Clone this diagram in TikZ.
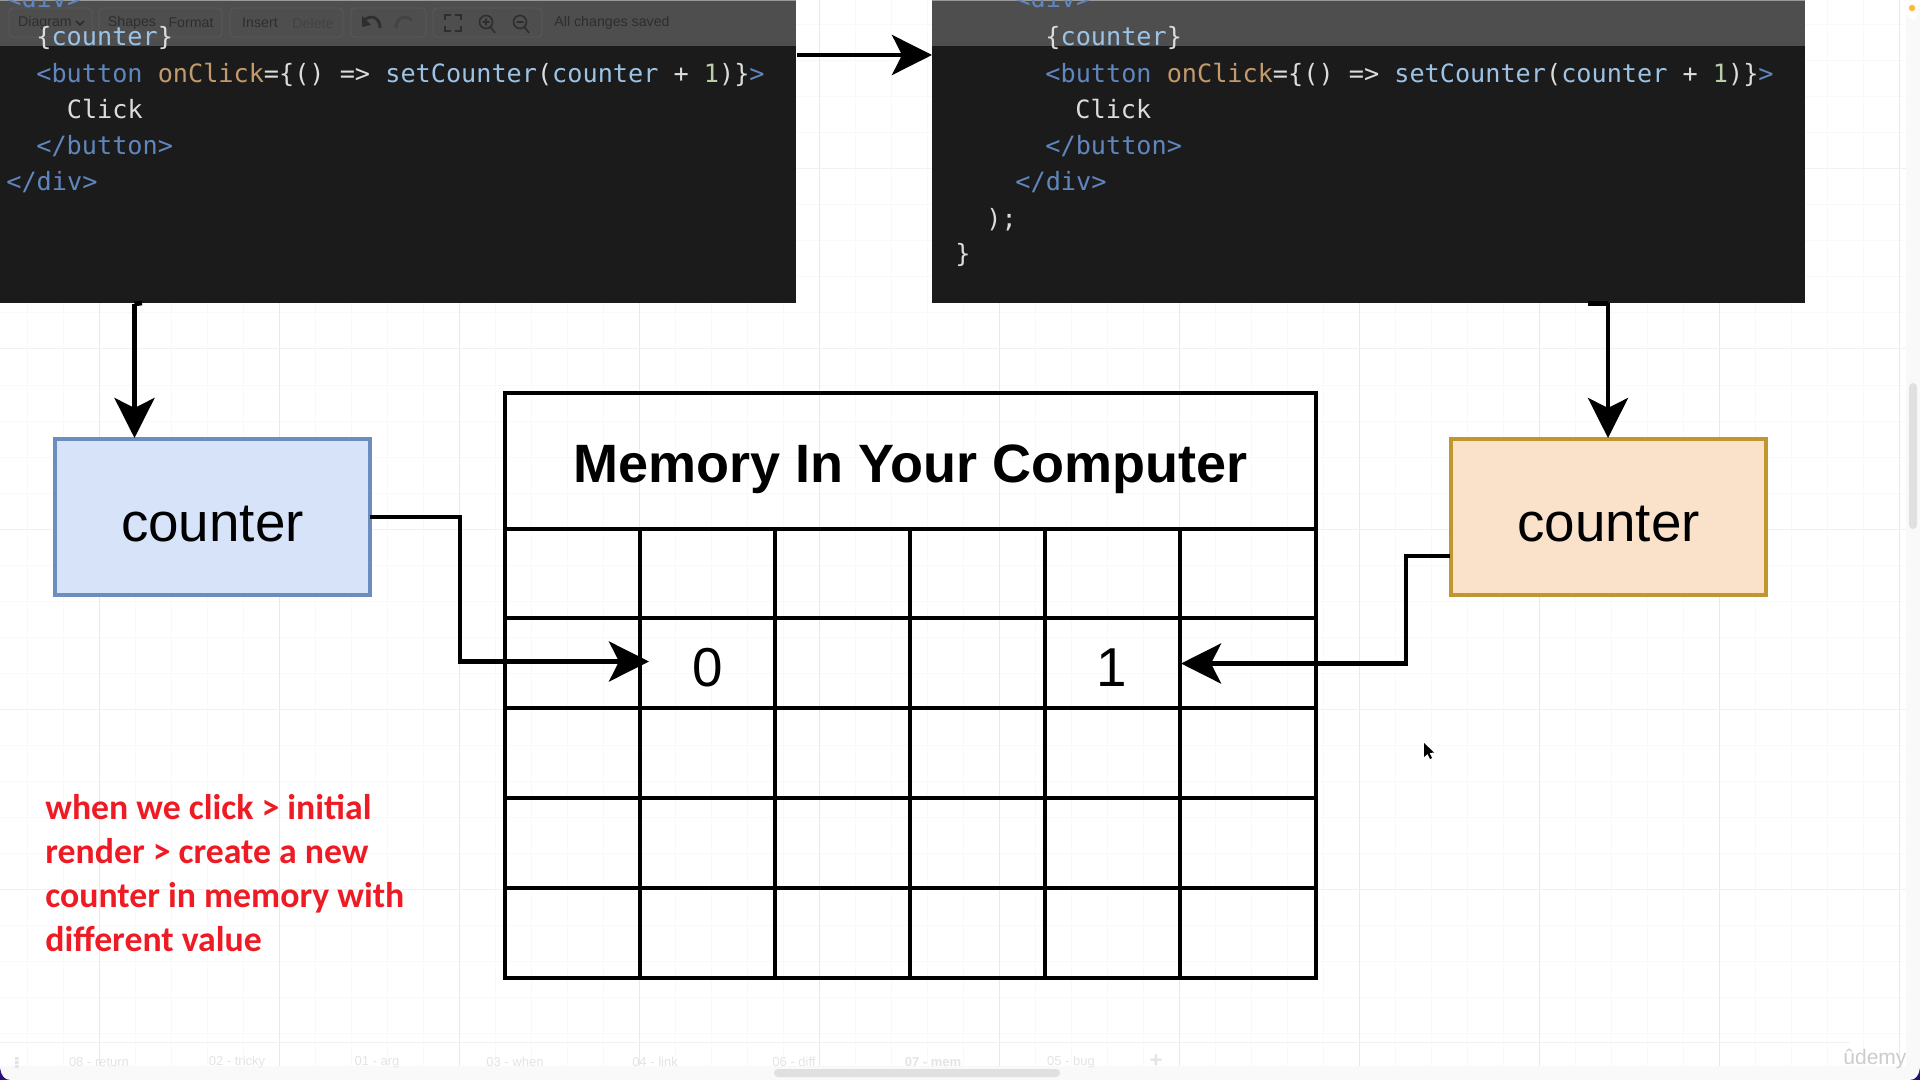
\documentclass[tikz,border=0pt]{standalone}
\usepackage{fontspec}
\usetikzlibrary{arrows.meta,calc}
\setmainfont{Liberation Sans}
\newfontfamily\codefont{DejaVu Sans Mono}
\newfontfamily\redfont{Carlito}
\definecolor{codebg}{HTML}{1B1B1B}
\definecolor{bandbg}{HTML}{4E4E4E}
\definecolor{tagblue}{HTML}{5F86BE}
\definecolor{attr}{HTML}{C39A6B}
\definecolor{fnblue}{HTML}{9CC3E6}
\definecolor{plain}{HTML}{DCDCDC}
\definecolor{numgreen}{HTML}{B9CDA6}
\definecolor{bluefill}{HTML}{D6E3F9}
\definecolor{bluedraw}{HTML}{6C8EBF}
\definecolor{orfill}{HTML}{FAE2CA}
\definecolor{ordraw}{HTML}{C2962F}
\definecolor{redtxt}{HTML}{EE1B24}
\definecolor{gridmin}{HTML}{F9F9F9}
\definecolor{gridmaj}{HTML}{E9E9E9}
\definecolor{gridhor}{HTML}{F1F1F1}
\definecolor{stripbg}{HTML}{F9F9F9}
\definecolor{tbtxt}{HTML}{2E2E2E}
\definecolor{tbfaint}{HTML}{434343}
\definecolor{tabtxt}{HTML}{E4E4E4}
\definecolor{cornerv}{HTML}{2A0F7A}
\newcommand{\Tg}[1]{\textcolor{tagblue}{#1}}
\newcommand{\At}[1]{\textcolor{attr}{#1}}
\newcommand{\Fn}[1]{\textcolor{fnblue}{#1}}
\newcommand{\Nm}[1]{\textcolor{numgreen}{#1}}
\newcommand{\btnline}{\Tg{<button} \At{onClick}=\{() => \Fn{setCounter}(\Fn{counter} + \Nm{1})\}\Tg{>}}
\tikzset{
  codepanel/.style={fill=codebg,draw=none,anchor=north west,inner sep=0pt,outer sep=0pt,minimum height=151.5pt},
  band/.style={fill=bandbg,draw=none},
  codeline/.style={anchor=base west,inner sep=0pt,text=plain,font=\codefont\fontsize{12.6}{14}\selectfont},
  box/.style={draw,line width=2.2pt,anchor=north west,inner sep=0pt,outer sep=0pt,minimum width=157.5pt,minimum height=78pt,text=black},
  boxlabel/.style={inner sep=0pt,font=\fontsize{27.4}{30}\selectfont},
  conn/.style={draw=black,line width=2.3pt,-{Stealth[length=20pt,width=20pt,inset=5pt]}},
  tabline/.style={draw=black,line width=2.3pt},
  digit/.style={inner sep=0pt,font=\fontsize{27.4}{30}\selectfont},
  redline/.style={anchor=base west,inner sep=0pt,text=redtxt,font=\redfont\bfseries\fontsize{17.87}{20}\selectfont},
  tbbtn/.style={draw=bandbg!93!white,rounded corners=2pt,line width=0.4pt},
  tbtext/.style={inner sep=0pt,text=tbtxt,font=\fontsize{7.1}{9}\selectfont},
  tbicon/.style={draw=tbtxt,line width=0.8pt},
  tabtext/.style={inner sep=0pt,text=tabtxt,font=\fontsize{6.5}{8}\selectfont},
}
\begin{document}
\begin{tikzpicture}[x=0.5pt,y=-0.5pt]
\useasboundingbox (0,0) rectangle (1920,1080);
\fill[white] (0,0) rectangle (1920,1080);
% grid
\foreach \k in {0,...,53}{
  \draw[gridmin,line width=0.5pt] ({27+36*\k},0) -- ({27+36*\k},1066);
}
\foreach \k in {0,...,29}{
  \draw[gridmin,line width=0.5pt] (0,{25+36*\k}) -- (1920,{25+36*\k});
}
\foreach \k in {0,...,10}{
  \draw[gridmaj,line width=0.5pt] ({99+180*\k},0) -- ({99+180*\k},1066);
}
\foreach \k in {0,...,4}{
  \draw[gridhor,line width=0.5pt] (0,{169+180*\k}) -- (1920,{169+180*\k});
}
\draw[gridhor,line width=0.5pt] (0,1042) -- (1850,1042);
% window strips
\fill[stripbg] (1906,1066) -- (1906,10) arc[start angle=180,end angle=90,radius=10] -- (1920,0) -- (1920,1066) -- cycle;
\fill[stripbg] (0,1066) rectangle (1920,1080);
\fill[cornerv] (0,1068) -- (0,1080) -- (10,1080) .. controls (4,1080) and (1,1075) .. (0,1068) -- cycle;
\fill[cornerv] (1920,1068) -- (1920,1080) -- (1910,1080) .. controls (1916,1080) and (1919,1075) .. (1920,1068) -- cycle;
\fill[black!12,rounded corners=2pt] (774,1069) rectangle (1060,1077);
\foreach \tx/\px/\nm in {08 - return/99/t1,02 - tricky/237/t2,01 - arg/377/t3,03 - when/515/t4,04 - link/655/t5,06 - diff/794/t6,05 - bug/1071/t8}{
  \node[tabtext] (\nm) at (\px,1062) {\tx};
}
\node[tabtext] (t7) at (933,1062) {\textbf{07 - mem}};
\node[tabtext,font=\bfseries\fontsize{11}{12}\selectfont] (tplus) at (1156,1061) {+};
\fill[tabtxt] (15,1057) rectangle (18.5,1060) (15,1061) rectangle (18.5,1064) (15,1065) rectangle (18.5,1068);
\node[anchor=base west,inner sep=0pt,text=black!20,font=\fontsize{10.5}{12}\selectfont] (logo) at (1843,1064) {ûdemy};
% right scrollbar
\fill[black!12,rounded corners=2pt] (1909,383) rectangle (1917,529);
\fill[orange!70!yellow!80!white] (1912,8) circle (3.2);
% code panels
\node[codepanel,minimum width=398pt] (left) at (0,0) {};
\node[codepanel,minimum width=436.5pt] (right) at (932,0) {};
\fill[band] (0,0) rectangle (796,46.5);
\fill[band] (932,0) rectangle (1805,46.5);
\fill[black!40] (0,0) rectangle (796,1) (932,0) rectangle (1805,1);
% toolbar
\draw[tbbtn] (9,8) rectangle (92,37);
\draw[tbbtn] (99,8) rectangle (222,37);
\draw[tbbtn] (230,8) rectangle (343,37);
\draw[tbbtn] (351,8) rectangle (426,37);
\draw[tbbtn] (433,8) rectangle (542,37);
\node[tbtext] (tb1) at (45,23) {Diagram};
\node[tbtext] (tb2) at (132,23) {Shapes};
\node[tbtext] (tb3) at (191,23) {Format};
\node[tbtext] (tb4) at (260,23) {Insert};
\node[tbtext,text=tbfaint] (tb5) at (313,23) {Delete};
\node[tbtext,anchor=west] (tb6) at (554,23) {All changes saved};
\draw[tbicon] (76,21) -- (80,25) -- (84,21);
\draw[tbicon,line width=1.2pt] (445,20) |- (451,15) (455,15) -| (461,20) (461,26) |- (455,31) (451,31) -| (445,26);
\draw[tbicon] (486,22) circle (6.5) (490.5,27) -- (495,33) (482.5,22) -- (489.5,22) (486,18.5) -- (486,25.5);
\draw[tbicon] (520,22) circle (6.5) (524.5,27) -- (529,33) (516.5,22) -- (523.5,22);
\draw[tbicon,line width=1.4pt] (364,20) .. controls (372,14) and (380,18) .. (380,28);
\fill[tbtxt] (362,16) -- (362,27) -- (371,25) -- cycle;
\draw[draw=tbfaint,line width=1.4pt] (412,20) .. controls (404,14) and (396,18) .. (396,28);
% left code
\node[codeline] (l0) at (6,8) {\Tg{<div>}};
\node[codeline] (l1) at (36,46) {\{\Fn{counter}\}};
\node[codeline] (l2) at (36,83) {\btnline};
\node[codeline] (l3) at (66.5,119) {Click};
\node[codeline] (l4) at (36,155) {\Tg{</button>}};
\node[codeline] (l5) at (6,191) {\Tg{</div>}};
% right code
\node[codeline] (r0) at (1015,8) {\Tg{<div>}};
\node[codeline] (r1) at (1045,46) {\{\Fn{counter}\}};
\node[codeline] (r2) at (1045,83) {\btnline};
\node[codeline] (r3) at (1075,119) {Click};
\node[codeline] (r4) at (1045,155) {\Tg{</button>}};
\node[codeline] (r5) at (1015,191) {\Tg{</div>}};
\node[codeline] (r6) at (986,228) {);};
\node[codeline] (r7) at (955,263) {\}};
% boxes
\node[box,fill=bluefill,draw=bluedraw] (blue) at (55,439) {};
\node[box,fill=orfill,draw=ordraw] (orange) at (1451,439) {};
\node[boxlabel] (bluelbl) at ($(blue.center)+(0,7.5)$) {counter};
\node[boxlabel] (orlbl) at ($(orange.center)+(0,7.5)$) {counter};
% memory table
\node[draw=none,minimum width=405.5pt,minimum height=68pt,inner sep=0pt,anchor=north west,font=\bfseries\fontsize{27}{30}\selectfont] (title) at (505,401) {Memory In Your Computer};
\draw[tabline] (505,393) rectangle (1316,978);
\foreach \yy in {529,618,708,798,888}{
  \draw[tabline] (505,\yy) -- (1316,\yy);
}
\foreach \xx in {640,775,910,1045,1180}{
  \draw[tabline] (\xx,529) -- (\xx,978);
}
\node[digit] (zero) at (707.5,668) {0};
\node[digit] (one) at (1112,668) {1};
% connectors
\coordinate (ltop) at (797,55);
\coordinate (rtop) at (932,55);
\draw[conn] (ltop) -- (rtop);
\coordinate (a1) at (142,303);
\coordinate (a2) at (134.5,304);
\coordinate (a3) at (134.5,438);
\draw[line width=2.3pt] (a1) -- (a2);
\draw[conn] (a2) -- (a3);
\coordinate (b1) at (1588,303.5);
\coordinate (b2) at (1608,303.5);
\coordinate (b3) at (1608,438);
\draw[line width=2.3pt] (b1) -- (b2);
\draw[conn] (b2) -- (b3);
\coordinate (c1) at (460,517);
\coordinate (c2) at (649,661.5);
\draw[conn] (blue.east) -- (c1) |- (c2);
\coordinate (d0) at (1450,556);
\coordinate (d1) at (1406,556);
\coordinate (d2) at (1181,663.5);
\draw[conn] (d0) -- (d1) |- (d2);
% cursor
\fill[black] (1424,743) -- (1424,757) -- (1427.5,754) -- (1430,759) -- (1432,758) -- (1429.5,753) -- (1434,752.5) -- cycle;
% red note
\node[redline] (n1) at (45,819) {when we click > initial};
\node[redline] (n2) at (45,863) {render > create a new};
\node[redline] (n3) at (45,907) {counter in memory with};
\node[redline] (n4) at (45,951) {different value};
\end{tikzpicture}
\end{document}
